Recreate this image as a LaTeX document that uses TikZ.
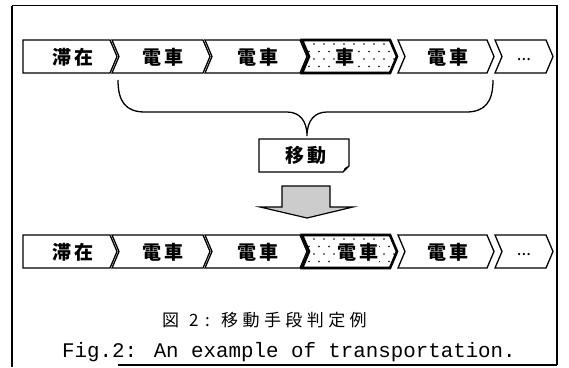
\documentclass[tikz,border=0pt]{standalone}
\usepackage{fontspec}
\setmainfont{Liberation Serif}
\newfontfamily\jpf{Noto Sans CJK JP}
\newfontfamily\jplbl[LetterSpace=12]{Noto Sans CJK JP}
\newfontfamily\jpcap[LetterSpace=26]{Noto Sans CJK JP}
\newfontfamily\monof{Liberation Mono}
\begin{document}
\begin{tikzpicture}[x=1pt,y=-1pt,
  chev/.style={draw=black, line width=1.3pt, fill=white, line join=miter},
  hotbox/.style={draw=black, line width=2.6pt, line join=miter},
  lbl/.style={font=\jplbl\fontsize{19}{19}\selectfont\bfseries, inner sep=0pt},
  frame/.style={draw=black, line width=1.5pt},
  dot/.style={fill=black}]
\useasboundingbox (0,0) rectangle (569,367);
% frame
\draw[frame, line width=2pt] (12,6) -- (12,367);
\draw[frame] (12,5.5) -- (557,5.5) -- (557,365);
\draw[frame, line width=1.2pt] (118,365) -- (557,365);
% chevron rows
\foreach \yt in {40,235} {
  \draw[chev] (23,\yt) -- (110,\yt) -- (117,\yt+16.5) -- (110,\yt+33) -- (23,\yt+33) -- cycle;
  \foreach \a/\b in {112/203,205/300,302/390,398/487,495/546} {
    \draw[chev] (\a,\yt) -- (\b,\yt) -- (\b+7,\yt+16.5) -- (\b,\yt+33) -- (\a,\yt+33) -- (\a+7,\yt+16.5) -- cycle;
  }
  \begin{scope}
    \clip (302,\yt) -- (390,\yt) -- (397,\yt+16.5) -- (390,\yt+33) -- (302,\yt+33) -- (309,\yt+16.5) -- cycle;
    \foreach \i in {0,...,10} {
      \foreach \j in {0,...,4} {
        \pgfmathsetmacro{\dx}{mod(\j,2)*5}
        \fill[dot] (304+\i*10+\dx,\yt+4+\j*7.5) circle (0.9);
      }
    }
  \end{scope}
  \draw[hotbox] (302,\yt) -- (390,\yt) -- (397,\yt+16.5) -- (390,\yt+33) -- (302,\yt+33) -- (309,\yt+16.5) -- cycle;
}
% row 1 labels
\node[lbl] (a1) at (73,57) {滞在};
\node[lbl] (a2) at (163,57) {電車};
\node[lbl] (a3) at (258,57) {電車};
\node[lbl, fill=white, inner sep=1pt] (a4) at (345,57) {車};
\node[lbl] (a5) at (448,57) {電車};
\node[lbl, font=\jpf\fontsize{17}{17}\selectfont] (a6) at (524,60) {...};
% row 2 labels
\node[lbl] (b1) at (73,252) {滞在};
\node[lbl] (b2) at (163,252) {電車};
\node[lbl] (b3) at (258,252) {電車};
\node[lbl, fill=white, inner sep=1pt] (b4) at (358,252) {電車};
\node[lbl] (b5) at (448,252) {電車};
\node[lbl, font=\jpf\fontsize{17}{17}\selectfont] (b6) at (524,255) {...};
% brace
\coordinate (bl) at (118,80);
\coordinate (br) at (493,80);
\coordinate (tip) at (307,136);
\draw[line width=1.3pt] (bl) .. controls (118,102) and (126,112) .. (145,112) -- (287,112)
   .. controls (299,112) and (307,120) .. (tip)
   .. controls (307,120) and (315,112) .. (327,112) -- (466,112)
   .. controls (485,112) and (493,102) .. (br);
% move box
\coordinate (mvc) at (306,155.5);
\draw[line width=1.3pt, fill=white] (259,139) -- (349,139) -- (349,166) -- (343,172) -- (259,172) -- cycle;
\fill[black] (349,166) .. controls (345,167) and (343,169) .. (343,172) -- cycle;
\node[lbl] (mv) at (mvc) {移動};
% big arrow
\coordinate (arr) at (307,218);
\draw[line width=1.2pt, fill=gray!40] (282,186) -- (330,186) -- (330,207) -- (353,207) -- (arr) -- (260,207) -- (282,207) -- cycle;
% captions
\node[font=\jpf\fontsize{17}{17}\selectfont, inner sep=0pt, anchor=west] (cap1) at (162,320)
  {\makebox[27pt][l]{図}\makebox[16pt][l]{2}\makebox[16pt][l]{:}{\jpcap 移動手段判定例}};
\node[font=\monof\fontsize{20.8}{20.8}\selectfont, inner sep=0pt] (cap2) at (289,352) {Fig.2: An example of transportation.};
\end{tikzpicture}
\end{document}
